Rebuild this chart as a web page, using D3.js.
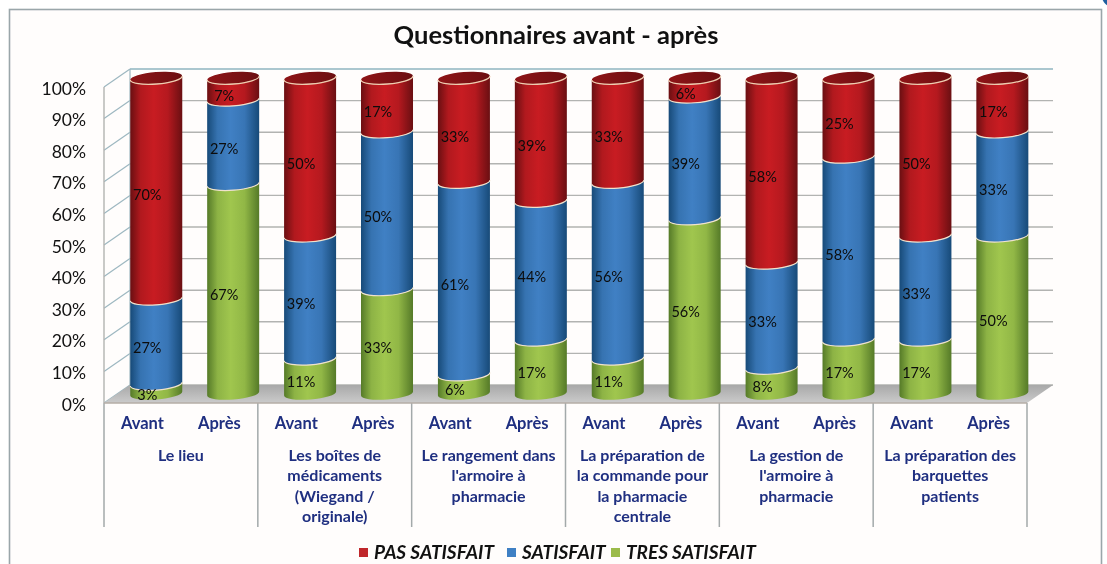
<!DOCTYPE html>
<html lang="fr">
<head>
<meta charset="utf-8">
<title>Questionnaires avant - après</title>
<script src="https://cdn.jsdelivr.net/npm/d3@7"></script>
<style>
  html, body { margin: 0; padding: 0; background: #fff; overflow: hidden; }
  svg { display: block; font-family: Lato, "Open Sans", sans-serif; filter: blur(0.4px); }
</style>
</head>
<body>
<div id="chart"></div>
<script>
const title = 'Questionnaires avant - après';
const periods = ['Avant', 'Après'];
const categories = [
  ['Le lieu'],
  ['Les boîtes de', 'médicaments', '(Wiegand /', 'originale)'],
  ['Le rangement dans', "l'armoire à", 'pharmacie'],
  ['La préparation de', 'la commande pour', 'la pharmacie', 'centrale'],
  ['La gestion de', "l'armoire à", 'pharmacie'],
  ['La préparation des', 'barquettes', 'patients'],
];
const tresSatisfait = [3, 67, 11, 33, 6, 17, 11, 56, 8, 17, 17, 50];
const satisfait = [27, 27, 39, 50, 61, 44, 56, 39, 33, 58, 33, 33];
const pasSatisfait = [70, 7, 50, 17, 33, 39, 33, 6, 58, 25, 50, 17];
const yTicks = [0, 0.1, 0.2, 0.3, 0.4, 0.5, 0.6, 0.7, 0.8, 0.9, 1];

const width = 1107;
const height = 564;
const front = { left: 104, right: 1027, top: 87, bottom: 403 };
const depth = { x: 26, y: -18 };
const cyl = { rx: 26, ry: 6, tilt: 2, top: 78, bottom: 393.5 };

const seriesInfo = [
  { key: 'tres', name: 'TRES SATISFAIT', values: tresSatisfait, edge: '#557a28', mid: '#a0c64e', swatch: '#9bbb4a', legendX: 611 },
  { key: 'sat', name: 'SATISFAIT', values: satisfait, edge: '#174a78', mid: '#4080c4', swatch: '#3f80c4', legendX: 507 },
  { key: 'pas', name: 'PAS SATISFAIT', values: pasSatisfait, edge: '#6a0f12', mid: '#c81c22', swatch: '#c0272b', legendX: 359 },
];

const rows = d3.range(12).map((i) => {
  const row = { i };
  seriesInfo.forEach((s) => (row[s.key] = s.values[i]));
  return row;
});
const stacked = d3.stack().keys(seriesInfo.map((s) => s.key)).offset(d3.stackOffsetExpand)(rows);

const x = d3.scaleBand().domain(d3.range(12)).range([front.left, front.right]);
const xCat = d3.scaleBand().domain(d3.range(6)).range([front.left, front.right]);
const y = d3.scaleLinear().domain([0, 1]).range([front.bottom, front.top]);
const yCyl = d3.scaleLinear().domain([0, 1]).range([cyl.bottom, cyl.top]);
const yLabel = d3.scaleLinear().domain([0, 1]).range([399.7, 84.7]);
const cx = (i) => x(i) + x.bandwidth() / 2 + depth.x / 2 + 0.8;

const svg = d3.select('#chart').append('svg').attr('width', width).attr('height', height);
const defs = svg.append('defs');

seriesInfo.forEach((s) => {
  const g = defs.append('linearGradient').attr('id', `grad-${s.key}`);
  g.append('stop').attr('offset', '0%').attr('stop-color', s.edge);
  g.append('stop').attr('offset', '20%').attr('stop-color', d3.interpolateRgb(s.edge, s.mid)(0.75));
  g.append('stop').attr('offset', '45%').attr('stop-color', s.mid);
  g.append('stop').attr('offset', '72%').attr('stop-color', d3.interpolateRgb(s.edge, s.mid)(0.8));
  g.append('stop').attr('offset', '100%').attr('stop-color', s.edge);
});
const capGrad = defs.append('linearGradient').attr('id', 'grad-cap');
capGrad.append('stop').attr('offset', '0%').attr('stop-color', '#8e1417');
capGrad.append('stop').attr('offset', '100%').attr('stop-color', '#6c0f11');
const floorGrad = defs.append('linearGradient').attr('id', 'grad-floor').attr('x2', 0).attr('y2', 1);
floorGrad.append('stop').attr('offset', '0%').attr('stop-color', '#a8a8a8');
floorGrad.append('stop').attr('offset', '100%').attr('stop-color', '#cbcbcb');

// Frame, plus the bit of blue that pokes into the top right corner of the screenshot
svg.append('rect').attr('x', 9.5).attr('y', 9.5).attr('width', 1092).attr('height', 600)
  .attr('fill', '#fffdfc').attr('stroke', '#9aa6aa').attr('stroke-width', 1.6);
svg.append('circle').attr('cx', 1113).attr('cy', -4).attr('r', 11).attr('fill', '#1f5f9f');

svg.append('text').attr('x', 556).attr('y', 44).attr('text-anchor', 'middle')
  .attr('font-size', 25.5).attr('font-weight', 700).attr('fill', '#111').text(title);

// Back wall, side wall and floor
const wallColor = '#b2b3b1';
const grid = svg.append('g').attr('fill', 'none');
grid.selectAll('line.back').data(yTicks).join('line').attr('class', 'back')
  .attr('x1', front.left + depth.x).attr('x2', front.right + depth.x)
  .attr('y1', (d) => y(d) + depth.y).attr('y2', (d) => y(d) + depth.y)
  .attr('stroke', (d) => (d === 1 ? '#8fb4c0' : wallColor)).attr('stroke-width', 1.4);
grid.selectAll('line.side').data(yTicks).join('line').attr('class', 'side')
  .attr('x1', front.left).attr('x2', front.left + depth.x)
  .attr('y1', (d) => y(d)).attr('y2', (d) => y(d) + depth.y)
  .attr('stroke', '#9db7c0').attr('stroke-width', 1.2);
grid.append('line').attr('x1', front.left + depth.x).attr('x2', front.left + depth.x)
  .attr('y1', y(1) + depth.y).attr('y2', y(0) + depth.y).attr('stroke', '#9db7c0').attr('stroke-width', 1.2);
grid.append('line').attr('x1', front.left).attr('x2', front.left)
  .attr('y1', y(1)).attr('y2', y(0)).attr('stroke', wallColor).attr('stroke-width', 1.4);

svg.append('path')
  .attr('d', d3.line()([
    [front.left, y(0)],
    [front.left + depth.x, y(0) + depth.y],
    [front.right + depth.x, y(0) + depth.y],
    [front.right, y(0)],
  ]) + 'Z')
  .attr('fill', 'url(#grad-floor)');

// Category separators under the floor
const separators = d3.range(7).map((i) => (i < 6 ? xCat(i) : front.right));
svg.append('g').selectAll('line').data(separators).join('line')
  .attr('x1', (d) => d).attr('x2', (d) => d).attr('y1', y(0)).attr('y2', 527)
  .attr('stroke', '#a3a9aa').attr('stroke-width', 1.5);
svg.append('line').attr('x1', front.left).attr('x2', front.right).attr('y1', y(0)).attr('y2', y(0))
  .attr('stroke', '#b5aca6').attr('stroke-width', 1.6);

// Cylinders, bottom series first so each upper segment's curved base overlaps the one below
const angle = (-Math.atan2(cyl.tilt * 2, cyl.rx * 2) * 180) / Math.PI;
const cylinders = svg.append('g');
stacked.forEach((layer, li) => {
  const info = seriesInfo[li];
  layer.forEach((seg, i) => {
    const l = cx(i) - cyl.rx;
    const r = cx(i) + cyl.rx;
    const top = yCyl(seg[1]);
    const bot = yCyl(seg[0]);
    const arc = `A${cyl.rx} ${cyl.ry} ${angle}`;
    cylinders.append('path')
      .attr('d', `M${l} ${top + cyl.tilt}${arc} 0 0 ${r} ${top - cyl.tilt}L${r} ${bot - cyl.tilt}${arc} 0 1 ${l} ${bot + cyl.tilt}Z`)
      .attr('fill', `url(#grad-${info.key})`);
    if (li > 0) {
      cylinders.append('path')
        .attr('d', `M${r} ${bot - cyl.tilt}${arc} 0 1 ${l} ${bot + cyl.tilt}`)
        .attr('fill', 'none').attr('stroke', '#f0e2cc').attr('stroke-width', 1.2);
    }
  });
});
d3.range(12).forEach((i) => {
  const top = yCyl(1);
  cylinders.append('ellipse')
    .attr('cx', cx(i)).attr('cy', top).attr('rx', cyl.rx).attr('ry', cyl.ry)
    .attr('transform', `rotate(${angle} ${cx(i)} ${top})`)
    .attr('fill', 'url(#grad-cap)');
  cylinders.append('path')
    .attr('d', `M${cx(i) - cyl.rx} ${top + cyl.tilt}A${cyl.rx} ${cyl.ry} ${angle} 0 0 ${cx(i) + cyl.rx} ${top - cyl.tilt}`)
    .attr('fill', 'none').attr('stroke', '#eecdb0').attr('stroke-width', 1.3);
});

// Value labels
stacked.forEach((layer, li) => {
  const info = seriesInfo[li];
  svg.append('g').selectAll('text').data(layer).join('text')
    .attr('x', (d, i) => cx(i) - 9)
    .attr('y', (d) => yLabel((d[0] + d[1]) / 2))
    .attr('dy', '0.35em').attr('text-anchor', 'middle')
    .attr('font-size', 14.5).attr('fill', '#0c0c0c')
    .text((d, i) => `${info.values[i]}%`);
});

// Axes
svg.append('g').attr('transform', `translate(${front.left},1.5)`)
  .call(d3.axisLeft(y).tickValues(yTicks).tickFormat(d3.format('.0%')).tickSize(0).tickPadding(18))
  .call((g) => g.select('.domain').remove())
  .selectAll('text').attr('font-size', 17.5).attr('font-family', 'Lato').attr('fill', '#111');

svg.append('g').attr('transform', `translate(0,${front.bottom})`)
  .call(d3.axisBottom(x).tickFormat((i) => periods[i % 2]).tickSize(0).tickPadding(14))
  .call((g) => g.select('.domain').remove())
  .selectAll('text').attr('font-size', 16.5).attr('font-weight', 700).attr('font-family', 'Lato').attr('fill', '#1f2f80');

const catLabels = svg.append('g').attr('text-anchor', 'middle')
  .attr('font-size', 16).attr('font-weight', 700).attr('fill', '#1f2f80');
categories.forEach((lines, c) => {
  lines.forEach((line, k) => {
    catLabels.append('text')
      .attr('x', xCat(c) + xCat.bandwidth() / 2)
      .attr('y', 455 + k * 20.5).attr('dy', '0.35em').text(line);
  });
});

// Legend
const legend = svg.append('g').attr('font-size', 19).attr('font-weight', 700).attr('font-style', 'italic').attr('fill', '#111');
seriesInfo.forEach((s) => {
  legend.append('rect').attr('x', s.legendX).attr('y', 548).attr('width', 9).attr('height', 9).attr('fill', s.swatch);
  legend.append('text').attr('x', s.legendX + 15).attr('y', 552.5).attr('dy', '0.35em').text(s.name);
});
</script>
</body>
</html>
